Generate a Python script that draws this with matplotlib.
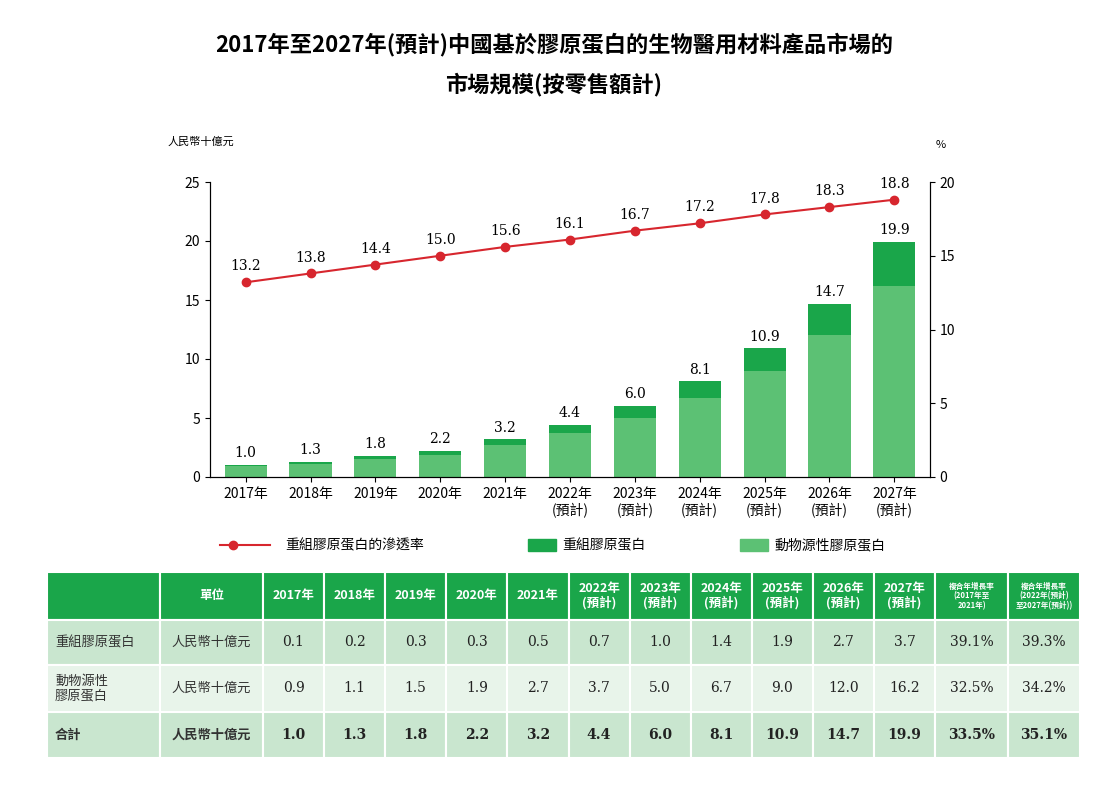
import matplotlib.pyplot as plt
import numpy as np

plt.rcParams['font.family'] = ['Noto Sans CJK TC', 'DejaVu Sans']

years = ["2017年", "2018年", "2019年", "2020年", "2021年", "2022年\n(預計)", "2023年\n(預計)",
         "2024年\n(預計)", "2025年\n(預計)", "2026年\n(預計)", "2027年\n(預計)"]
recombinant = [0.1, 0.2, 0.3, 0.3, 0.5, 0.7, 1.0, 1.4, 1.9, 2.7, 3.7]
animal = [0.9, 1.1, 1.5, 1.9, 2.7, 3.7, 5.0, 6.7, 9.0, 12.0, 16.2]
total = [1.0, 1.3, 1.8, 2.2, 3.2, 4.4, 6.0, 8.1, 10.9, 14.7, 19.9]
penetration = [13.2, 13.8, 14.4, 15.0, 15.6, 16.1, 16.7, 17.2, 17.8, 18.3, 18.8]
cagr = {"重組膠原蛋白": ["39.1%", "39.3%"], "動物源性\n膠原蛋白": ["32.5%", "34.2%"], "合計": ["33.5%", "35.1%"]}

DARK = "#1aa64a"
LIGHT = "#5cc174"
RED = "#d7262e"
W, H = 1108, 790

fig = plt.figure(figsize=(W / 100, H / 100), dpi=100)
fig.text(0.5, 1 - 45 / H, "2017年至2027年(預計)中國基於膠原蛋白的生物醫用材料產品市場的", ha="center", va="center", fontsize=16, fontweight="bold")
fig.text(0.5, 1 - 85 / H, "市場規模(按零售額計)", ha="center", va="center", fontsize=16, fontweight="bold")

ax = fig.add_axes([210 / W, 1 - 477 / H, 720 / W, 295 / H])
x = np.arange(len(years))
ax.bar(x, animal, width=0.65, color=LIGHT)
ax.bar(x, recombinant, bottom=animal, width=0.65, color=DARK)
for xi, t in zip(x, total):
    ax.text(xi, t + 0.4, f"{t:.1f}", ha="center", va="bottom", fontsize=10, family="DejaVu Serif")
ax.set_xlim(-0.55, len(years) - 0.45)
ax.set_ylim(0, 25)
ax.set_yticks(range(0, 26, 5))
ax.set_xticks(x)
ax.set_xticklabels(years, fontsize=9)
ax.tick_params(labelsize=10)
ax.spines["top"].set_visible(False)
fig.text(168 / W, 1 - 142 / H, "人民幣十億元", va="center", fontsize=8)
ax2 = ax.twinx()
ax2.plot(x, penetration, color=RED, marker="o", markersize=6, lw=1.5)
for xi, p in zip(x, penetration):
    ax2.text(xi, p + 0.6, f"{p:.1f}", ha="center", va="bottom", fontsize=10, family="DejaVu Serif")
ax2.set_ylim(0, 20)
ax2.set_yticks(range(0, 21, 5))
ax2.tick_params(labelsize=10)
ax2.spines["top"].set_visible(False)
fig.text(936 / W, 1 - 145 / H, "%", va="center", fontsize=8)

# legend row
fig.lines.append(plt.Line2D([220 / W, 270 / W], [1 - 545 / H] * 2, color=RED, lw=1.5, transform=fig.transFigure))
fig.lines.append(plt.Line2D([233 / W], [1 - 545 / H], color=RED, marker="o", markersize=6, transform=fig.transFigure))
fig.text(285 / W, 1 - 545 / H, "重組膠原蛋白的滲透率", va="center", fontsize=10)
fig.patches.append(plt.Rectangle((528 / W, 1 - 551 / H), 28 / W, 12 / H, color=DARK, transform=fig.transFigure))
fig.text(562 / W, 1 - 545 / H, "重組膠原蛋白", va="center", fontsize=10)
fig.patches.append(plt.Rectangle((740 / W, 1 - 551 / H), 28 / W, 12 / H, color=LIGHT, transform=fig.transFigure))
fig.text(774 / W, 1 - 545 / H, "動物源性膠原蛋白", va="center", fontsize=10)

# table
tb = fig.add_axes([0, 0, 1, 1])
tb.set_xlim(0, W)
tb.set_ylim(H, 0)
tb.axis("off")
cols = [47, 160, 263] + [263 + 61.1 * (i + 1) for i in range(11)] + [1008, 1080]
rows = [572, 620, 665, 712, 758]
header = ["", "單位"] + years + ["複合年增長率\n(2017年至\n2021年)", "複合年增長率\n(2022年(預計)\n至2027年(預計))"]
row_bg = ["#c9e6cf", "#e8f4ea", "#c9e6cf"]
units = "人民幣十億元"
series = [recombinant, animal, total]
names = list(cagr.keys())
for r in range(4):
    for c in range(len(cols) - 1):
        x0, x1 = cols[c], cols[c + 1]
        y0, y1 = rows[r], rows[r + 1]
        fc = DARK if r == 0 else row_bg[r - 1]
        tb.add_patch(plt.Rectangle((x0, y0), x1 - x0, y1 - y0, facecolor=fc, edgecolor="white", lw=1.5))
        if r == 0:
            fs = 5.5 if c >= 13 else 9
            tb.text((x0 + x1) / 2, (y0 + y1) / 2, header[c], ha="center", va="center",
                    color="white", fontsize=fs, fontweight="bold", linespacing=1.1)
        else:
            bold = r == 3
            if c == 0:
                tb.text(x0 + 8, (y0 + y1) / 2, names[r - 1], ha="left", va="center", fontsize=9.5,
                        color="#333333", fontweight="bold" if bold else "normal", linespacing=1.1)
            elif c == 1:
                tb.text((x0 + x1) / 2, (y0 + y1) / 2, units, ha="center", va="center", fontsize=9.5,
                        color="#333333", fontweight="bold" if bold else "normal")
            else:
                txt = f"{series[r - 1][c - 2]:.1f}" if c < 13 else cagr[names[r - 1]][c - 13]
                tb.text((x0 + x1) / 2, (y0 + y1) / 2, txt, ha="center", va="center", fontsize=10,
                        family="DejaVu Serif", color="#222222", fontweight="bold" if bold else "normal")

fig.savefig("out.png", dpi=100)
